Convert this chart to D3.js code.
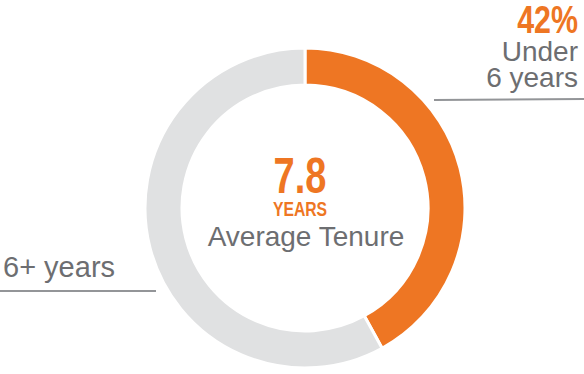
<!DOCTYPE html>
<html>
<head>
<meta charset="utf-8">
<script src="https://cdn.jsdelivr.net/npm/d3@7"></script>
<style>
  body { margin: 0; background: #fff; }
  svg { display: block; }
  .label { font-family: "Liberation Sans", Arial, sans-serif; fill: #6d6e71; }
  .big { font-family: "Liberation Sans", Arial, sans-serif; font-weight: bold; fill: #ee7623; }
</style>
</head>
<body>
<div id="chart"></div>
<script>
// tenure groups, share of employees (%)
const categories = ["Under 6 years", "6+ years"];
const shares = [42, 58];
const avgTenure = "7.8";

const width = 584;
const height = 374;
const cx = 305, cy = 208;
const outerR = 160, innerR = 123;

const color = d3.scaleOrdinal(categories, ["#ee7623", "#e0e1e2"]);

const svg = d3.select("#chart")
  .append("svg")
  .attr("width", width)
  .attr("height", height);

const pie = d3.pie().sort(null).value(d => d.value);
const arc = d3.arc().innerRadius(innerR).outerRadius(outerR);

const data = categories.map((c, i) => ({ name: c, value: shares[i] }));

svg.append("g")
  .attr("transform", "translate(" + cx + "," + cy + ")")
  .selectAll("path")
  .data(pie(data))
  .enter().append("path")
  .attr("d", arc)
  .attr("fill", d => color(d.data.name))
  .attr("stroke", "#fff")
  .attr("stroke-width", 3);

// condensed-looking bold text (no narrow font installed, so squeeze it)
function bigText(x, y, size, sx, anchor, txt) {
  svg.append("text")
    .attr("class", "big")
    .attr("transform", "translate(" + x + "," + y + ") scale(" + sx + ",1)")
    .attr("text-anchor", anchor)
    .style("font-size", size + "px")
    .text(txt);
}

// centre text
bigText(300, 193, 50, 0.76, "middle", avgTenure);
bigText(300, 216, 21, 0.75, "middle", "YEARS");

svg.append("text")
  .attr("class", "label")
  .attr("x", 306).attr("y", 246)
  .attr("text-anchor", "middle")
  .style("font-size", "28px")
  .text("Average Tenure");

// right callout
bigText(578, 33, 38, 0.8, "end", shares[0] + "%");

svg.append("text")
  .attr("class", "label")
  .attr("x", 578).attr("y", 61)
  .attr("text-anchor", "end")
  .style("font-size", "28px")
  .text("Under");

svg.append("text")
  .attr("class", "label")
  .attr("x", 578).attr("y", 87)
  .attr("text-anchor", "end")
  .style("font-size", "28px")
  .text("6 years");

svg.append("line")
  .attr("x1", 434).attr("x2", 584)
  .attr("y1", 100).attr("y2", 99)
  .attr("stroke", "#939598").attr("stroke-width", 2);

// left callout
svg.append("text")
  .attr("class", "label")
  .attr("x", 3).attr("y", 277)
  .style("font-size", "29px")
  .text(categories[1]);

svg.append("line")
  .attr("x1", 0).attr("x2", 156)
  .attr("y1", 291).attr("y2", 291)
  .attr("stroke", "#939598").attr("stroke-width", 2);
</script>
</body>
</html>
